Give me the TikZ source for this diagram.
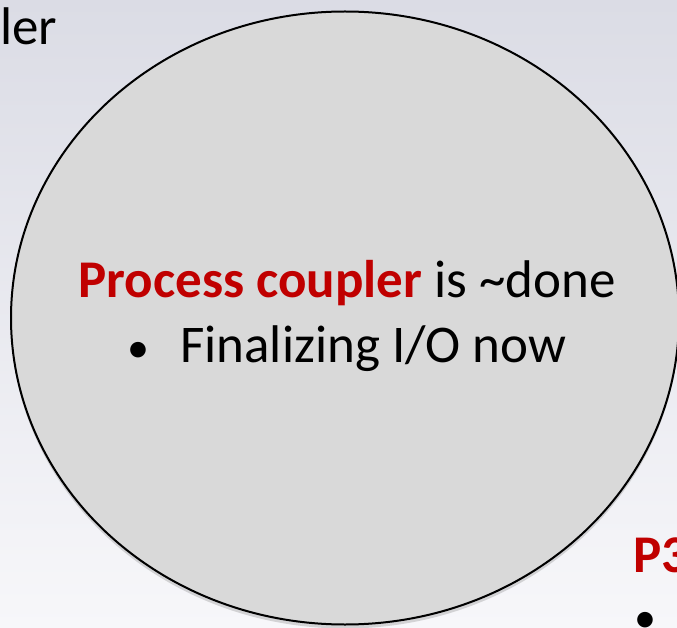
\documentclass[tikz,border=0pt]{standalone}
\usepackage{fontspec}
\setmainfont{Carlito}
\usetikzlibrary{shapes.geometric, shadows, positioning}
\definecolor{bubblegray}{RGB}{217,217,217}
\definecolor{accent}{RGB}{192,0,0}
\definecolor{bgtop}{RGB}{219,220,229}
\definecolor{bgbottom}{RGB}{247,247,250}
\newcommand{\slidebullet}{{\fontsize{44}{64}\selectfont\textbullet}}
\tikzset{
    bubble/.style={ellipse, draw=black, fill=bubblegray, line width=2pt, minimum width=668pt, minimum height=613pt, inner sep=0pt, drop shadow={shadow xshift=0pt, shadow yshift=-4pt, opacity=0.3}},
    slidetext/.style={inner sep=0pt, text=black, font=\fontsize{53}{64}\selectfont},
    keyword/.style={text=accent, font=\fontsize{53}{64}\selectfont\bfseries}
}

\begin{document}
\begin{tikzpicture}[x=1pt, y=-1pt]
        
        \clip (0,0) rectangle (677,628);
        \shade [top color=bgtop, bottom color=bgbottom] (0,0) rectangle (677,628);
        
        \node [bubble] (process) at (345,318) {};
        
        \node [slidetext, anchor=base] (status) at (347,298) {{\color{accent}\bfseries Process coupler} is \textasciitilde done};
        
        \node [slidetext, anchor=base, yshift=-64pt] (item) at (status.base) {\slidebullet\hspace{31pt}Finalizing I/O now};
        
        % Cut-off text at the edges
        \node [slidetext, anchor=base west] (topleft) at (0,45) {ler};
        \node [slidetext, keyword, anchor=base west] (next) at (633,572) {P3};
        \node [slidetext, anchor=base west] (nextitem) at (634,632) {\slidebullet};
        
    \end{tikzpicture}
\end{document}
